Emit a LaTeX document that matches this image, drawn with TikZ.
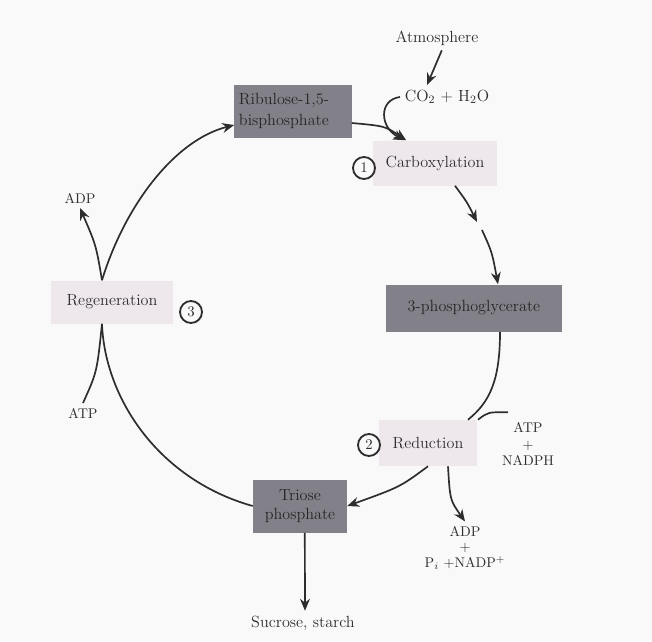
\documentclass[tikz,border=0pt]{standalone}
\usepackage{tikz}
\usetikzlibrary{arrows.meta}
\definecolor{darkbox}{RGB}{130,128,136}
\definecolor{lightbox}{RGB}{238,231,236}
\definecolor{inkgray}{RGB}{45,45,45}
\definecolor{paper}{RGB}{249,249,249}

\begin{document}
\begin{tikzpicture}[x=0.025cm,y=-0.025cm,
	every node/.style={font=\fontsize{11.5}{15}\selectfont, text=black!82},
	compound/.style={fill=darkbox, inner sep=2pt, text=black!85},
	stage/.style={fill=lightbox, inner sep=2pt},
	stepnum/.style={circle, draw=inkgray, line width=1.3pt, inner sep=0pt, minimum size=0.55cm, font=\fontsize{10.5}{12}\selectfont},
	sidelabel/.style={font=\fontsize{10}{12}\selectfont, align=center},
	flow/.style={draw=inkgray, line width=1.2pt},
	>={Stealth[length=8.5pt,width=7pt]}]
					% Paper background, fixes the picture size
					\fill[paper] (0,0) rectangle (652,641);
					
					% Compounds (dark boxes) and stages (light boxes)
					\node[compound, minimum width=2.925cm, minimum height=1.325cm, text width=2.7cm, align=left] (rubp) at (293,111) {Ribulose-1,5-\\bisphosphate};
					\node[stage, minimum width=3.1cm, minimum height=1.125cm] (carb) at (435,163) {Carboxylation};
					\node[stepnum] (s1) at (364,168) {1};
					\node[compound, minimum width=4.375cm, minimum height=1.175cm] (pga) at (474,308) {3-phosphoglycerate};
					\node[stage, minimum width=2.425cm, minimum height=1.15cm] (red) at (428,443) {Reduction};
					\node[stepnum] (s2) at (369,445) {2};
					\node[compound, minimum width=2.35cm, minimum height=1.325cm, align=center, font=\fontsize{11.5}{13.5}\selectfont] (triose) at (300,506) {Triose\\phosphate};
					\node[stage, minimum width=3.025cm, minimum height=1.075cm] (regen) at (112,302) {Regeneration};
					\node[stepnum] (s3) at (191,312) {3};
					
					% Inputs and outputs
					\node (atm) at (437,38) {Atmosphere};
					\node (co2) at (447,97) {CO$_2$ + H$_2$O};
					\node[sidelabel] (atpin) at (528,444) {ATP\\+\\NADPH};
					\node[sidelabel, font=\fontsize{10}{11}\selectfont] (adpout) at (465,548) {ADP\\+\\P$_i$ +NADP$^+$};
					\node (sugar) at (303,623) {Sucrose, starch};
					\node[sidelabel] (adpreg) at (80,198) {ADP};
					\node[sidelabel] (atpreg) at (83,413) {ATP};
					
					% Carbon dioxide enters the cycle
					\draw[flow,->] ([xshift=0.12cm]atm.south) -- ([xshift=-0.5cm]co2.north); % From the air
					\draw[flow,->] (co2.west) .. controls (378,100) and (380,128) .. ([xshift=-0.75cm]carb.north);
					\draw[flow,->] ([yshift=-0.3cm]rubp.east) .. controls (385,126) .. ([xshift=-0.72cm]carb.north);
					
					% Carboxylation gives 3-phosphoglycerate
					\coordinate (tipa) at (477,222);
					\coordinate (tailb) at (482,230);
					\draw[flow,->] ([xshift=0.5cm]carb.south) .. controls (467,202) .. (tipa);
					\draw[flow,->] (tailb) .. controls (492,252) .. ([xshift=0.6cm]pga.north);
					
					% Reduction step
					\draw[flow] ([xshift=0.65cm]pga.south) .. controls (500,380) and (490,402) .. ([xshift=-0.22cm]red.north east);
					\draw[flow] ([xshift=0.03cm]red.north east) .. controls (488,412) .. ([xshift=-0.5cm,yshift=0.12cm]atpin.north); % ATP + NADPH used
					\draw[flow,->] (red.south) .. controls (400,487) .. (triose.east);
					\draw[flow,->] ([xshift=0.5cm]red.south) .. controls (450,500) .. (adpout.north); % Products released
					
					% Triose phosphate leaves or goes on to regeneration
					\draw[flow,->] ([xshift=0.12cm]triose.south) -- ([xshift=0.05cm]sugar.north);
					\draw[flow] (triose.west) .. controls (160,480) and (105,400) .. ([xshift=-0.25cm]regen.south);
					\draw[flow] (atpreg.north) .. controls (97,372) .. ([xshift=-0.25cm]regen.south); % ATP used
					
					% Regeneration of the acceptor
					\draw[flow,->] ([xshift=-0.25cm]regen.north) .. controls (125,205) and (175,140) .. ([yshift=-0.35cm]rubp.west);
					\draw[flow,->] ([xshift=-0.25cm]regen.north) .. controls (96,245) .. (adpreg.south); % ADP released
				\end{tikzpicture}
\end{document}
